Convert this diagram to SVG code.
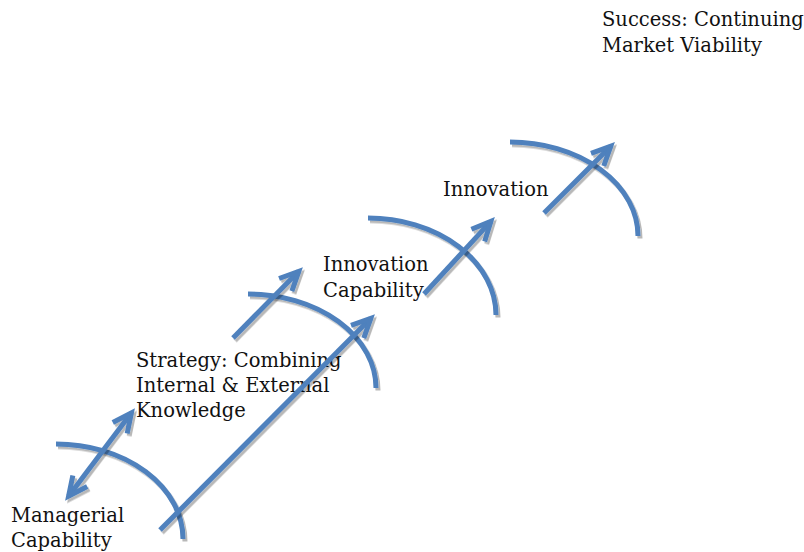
<svg xmlns="http://www.w3.org/2000/svg" width="804" height="552" viewBox="0 0 804 552">
  <style>
    .arc { fill: none; stroke: #4F81BD; stroke-width: 5; stroke-linecap: butt; }
    .arrow { fill: none; stroke: #4F81BD; stroke-width: 5; stroke-linecap: butt; marker-end: url(#head); }
    .both { marker-start: url(#head); }
    .label { font-family: "DejaVu Serif", "Liberation Serif", serif; font-size: 19.5px; fill: #111; }
  </style>
  <defs>
    <filter id="shadow" x="-10%" y="-10%" width="130%" height="130%">
      <feDropShadow dx="2" dy="2.5" stdDeviation="0.6" flood-color="#000" flood-opacity="0.28"/>
    </filter>
    <marker id="head" markerUnits="userSpaceOnUse" viewBox="-26 -14 36 28" refX="0" refY="0" markerWidth="36" markerHeight="28" orient="auto-start-reverse" overflow="visible">
      <path d="M-19,-9 L0,0 L-19,9" fill="none" stroke="#4F81BD" stroke-width="5" stroke-linejoin="miter" stroke-miterlimit="10"/>
    </marker>
  </defs>

  <rect width="804" height="552" fill="#fff"/>

  <!-- quarter arcs marking each step -->
  <g id="arcs" filter="url(#shadow)">
    <path id="arc-managerial" class="arc" d="M56,444 A127,95 0 0 1 183,539"/>
    <path id="arc-strategy" class="arc" d="M248,294 A128,94 0 0 1 376,388"/>
    <path id="arc-capability" class="arc" d="M368,218 A128,97 0 0 1 496,315"/>
    <path id="arc-innovation" class="arc" d="M510,142 A128,94 0 0 1 638,236"/>
  </g>

  <!-- step labels -->
  <g id="node-managerial">
    <text class="label" x="11" y="522">Managerial</text>
    <text class="label" x="11" y="547">Capability</text>
  </g>
  <g id="node-strategy">
    <text class="label" x="136" y="367">Strategy: Combining</text>
    <text class="label" x="136" y="392">Internal &amp; External</text>
    <text class="label" x="136" y="417">Knowledge</text>
  </g>
  <g id="node-capability">
    <text class="label" x="323" y="271">Innovation</text>
    <text class="label" x="323" y="297">Capability</text>
  </g>
  <g id="node-innovation">
    <text class="label" x="443" y="196">Innovation</text>
  </g>
  <g id="node-success">
    <text class="label" x="602" y="26">Success: Continuing</text>
    <text class="label" x="602" y="52">Market Viability</text>
  </g>

  <!-- arrows between steps -->
  <g id="connectors" filter="url(#shadow)">
    <path id="link-managerial-strategy" class="arrow both" d="M68.6,496.2 L131.4,412.8"/>
    <path id="link-managerial-capability" class="arrow" d="M160,530 L370.8,318.3"/>
    <path id="link-strategy-capability" class="arrow" d="M233,338 L298.8,271.3"/>
    <path id="link-capability-innovation" class="arrow" d="M424,294 L490.9,221.4"/>
    <path id="link-innovation-success" class="arrow" d="M544,213 L610.8,146.2"/>
  </g>
</svg>
